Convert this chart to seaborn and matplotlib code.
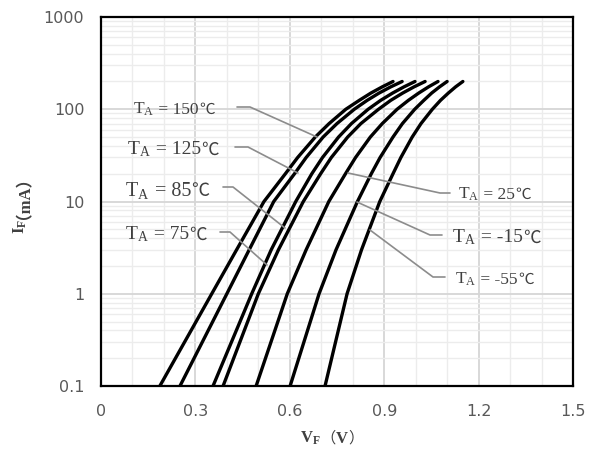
import numpy as np
import pandas as pd
import seaborn as sns
import matplotlib.pyplot as plt

# forward current levels (mA)
current_ma = [0.1, 1, 3, 10, 20, 30, 50, 70, 100, 125, 150, 175, 200]

# forward voltage (V) at each current level, one list per ambient temperature
vf_150 = [0.187, 0.352, 0.431, 0.518, 0.586, 0.625, 0.681, 0.725, 0.778, 0.821, 0.858, 0.894, 0.928]
vf_125 = [0.251, 0.400, 0.471, 0.549, 0.615, 0.652, 0.706, 0.750, 0.805, 0.846, 0.884, 0.921, 0.957]
vf_85 = [0.356, 0.479, 0.541, 0.619, 0.670, 0.704, 0.755, 0.796, 0.849, 0.889, 0.927, 0.963, 0.998]
vf_75 = [0.388, 0.500, 0.564, 0.643, 0.698, 0.732, 0.784, 0.826, 0.882, 0.921, 0.959, 0.995, 1.030]
vf_25 = [0.493, 0.592, 0.652, 0.724, 0.777, 0.809, 0.856, 0.894, 0.941, 0.977, 1.010, 1.041, 1.071]
vf_m15 = [0.601, 0.693, 0.747, 0.815, 0.859, 0.887, 0.928, 0.958, 0.997, 1.026, 1.051, 1.076, 1.100]
vf_m55 = [0.712, 0.782, 0.828, 0.886, 0.928, 0.953, 0.989, 1.017, 1.053, 1.079, 1.104, 1.127, 1.150]

temps = ['150', '125', '85', '75', '25', '-15', '-55']
series = [vf_150, vf_125, vf_85, vf_75, vf_25, vf_m15, vf_m55]

x_ticks = [0, 0.3, 0.6, 0.9, 1.2, 1.5]
y_ticks = [0.1, 1, 10, 100, 1000]
y_ticklabels = ['0.1', '1', '10', '100', '1000']

rows = []
for t, vals in zip(temps, series):
    for v, i in zip(vals, current_ma):
        rows.append({'temp': t, 'vf': v, 'if': i})
df = pd.DataFrame(rows)

sns.set_style('white')
plt.rcParams['font.family'] = ['DejaVu Sans']
plt.rcParams['mathtext.fontset'] = 'custom'
plt.rcParams['mathtext.rm'] = 'Liberation Serif'
plt.rcParams['mathtext.it'] = 'Liberation Serif:italic'
plt.rcParams['mathtext.bf'] = 'Liberation Serif:bold'

W, H = 591, 455
fig = plt.figure(figsize=(W / 100, H / 100), dpi=100)
ax = fig.add_axes([101 / W, 1 - 386 / H, (573 - 101) / W, (386 - 17) / H])

ax.set_yscale('log')
ax.set_xlim(0, 1.5)
ax.set_ylim(0.1, 1000)

# grid: light minor lines, slightly darker major ones
ax.set_xticks(np.arange(0, 1.51, 0.1), minor=True)
ax.set_xticks(x_ticks)
ax.set_xticklabels([f'{t:g}' for t in x_ticks])
ax.set_yticks(y_ticks)
ax.set_yticklabels(y_ticklabels)
ax.yaxis.set_minor_locator(plt.LogLocator(base=10, subs=np.arange(2, 10)))
ax.grid(True, which='minor', color='#ececec', lw=1.0)
ax.grid(True, which='major', color='#d6d6d6', lw=1.3)
ax.set_axisbelow(True)
ax.tick_params(which='both', length=0)
ax.tick_params(axis='x', pad=13, labelsize=11.5, labelcolor='#595959')
ax.tick_params(axis='y', pad=12, labelsize=11.5, labelcolor='#595959')

sns.lineplot(data=df, x='vf', y='if', hue='temp', hue_order=temps,
             palette=['black'] * len(temps), estimator=None, sort=False,
             legend=False, lw=2.4, ax=ax)
for ln in ax.lines:
    ln.set_solid_capstyle('round')
    ln.set_solid_joinstyle('round')

for sp in ax.spines.values():
    sp.set_color('black')
    sp.set_linewidth(1.6)

ax.set_xlabel('')
ax.set_ylabel('')
SERIF = 'Liberation Serif'
CJK = 'Noto Sans CJK SC'
lab_col = '#404040'


def chain(x, y, pieces):
    """lay out text pieces one after another on a common baseline (px coords)"""
    xf, yf = x / W, 1 - y / H
    prev = None
    for txt, fam, wt, fs in pieces:
        kw = dict(family=fam, fontweight=wt, fontsize=fs, color=lab_col,
                  ha='left', va='baseline')
        if prev is None:
            prev = fig.text(xf, yf, txt, **kw)
        else:
            prev = ax.annotate(txt, xy=(1, yf), xycoords=(prev, 'figure fraction'),
                               annotation_clip=False, **kw)


# x axis title: V_F（V）
chain(300, 443, [(r'$\mathbf{V_F}$', SERIF, 'bold', 12),
                 ('（', CJK, 'normal', 11), ('V', SERIF, 'bold', 12),
                 ('）', CJK, 'normal', 11)])

# y axis title: I_F（mA）, rotated
yl = fig.text(20 / W, 1 - 234 / H, r'$\mathbf{I_F}$', fontsize=12, rotation=90,
              ha='center', va='bottom', color=lab_col)
ax.annotate('（mA）', xy=(0.3, 1), xycoords=yl, family=[SERIF, CJK],
            fontweight='bold', fontsize=12, rotation=90, ha='center',
            va='bottom', color=lab_col, annotation_clip=False)

# temperature callouts: (label, text x, text centre y, size, leader path in px)
callouts = [
    ('150', 133, 108, 12.5, [(237, 107), (250, 107), (317, 137)]),
    ('125', 127, 148, 14, [(235, 147), (248, 147), (298, 173)]),
    ('85', 125, 189, 14.5, [(223, 187), (233, 187), (285, 228)]),
    ('75', 125, 233, 14, [(220, 232), (230, 232), (267, 265)]),
    ('25', 458, 193, 12.5, [(348, 173), (440, 193), (450, 193)]),
    ('-15', 452, 236, 14, [(357, 202), (430, 235), (442, 235)]),
    ('-55', 455, 278, 12.5, [(370, 230), (433, 277), (445, 277)]),
]
for t, tx, ty, fs, path in callouts:
    xs = [p[0] / W for p in path]
    ys = [1 - p[1] / H for p in path]
    fig.add_artist(plt.Line2D(xs, ys, color='#8c8c8c', lw=1.2))
    chain(tx, ty + 0.46 * fs, [(r'$\mathrm{T_A}$', SERIF, 'normal', fs),
                               (' = ' + t, SERIF, 'normal', fs),
                               ('℃', CJK, 'normal', fs * 0.9)])

fig.savefig('out.png', dpi=100)
